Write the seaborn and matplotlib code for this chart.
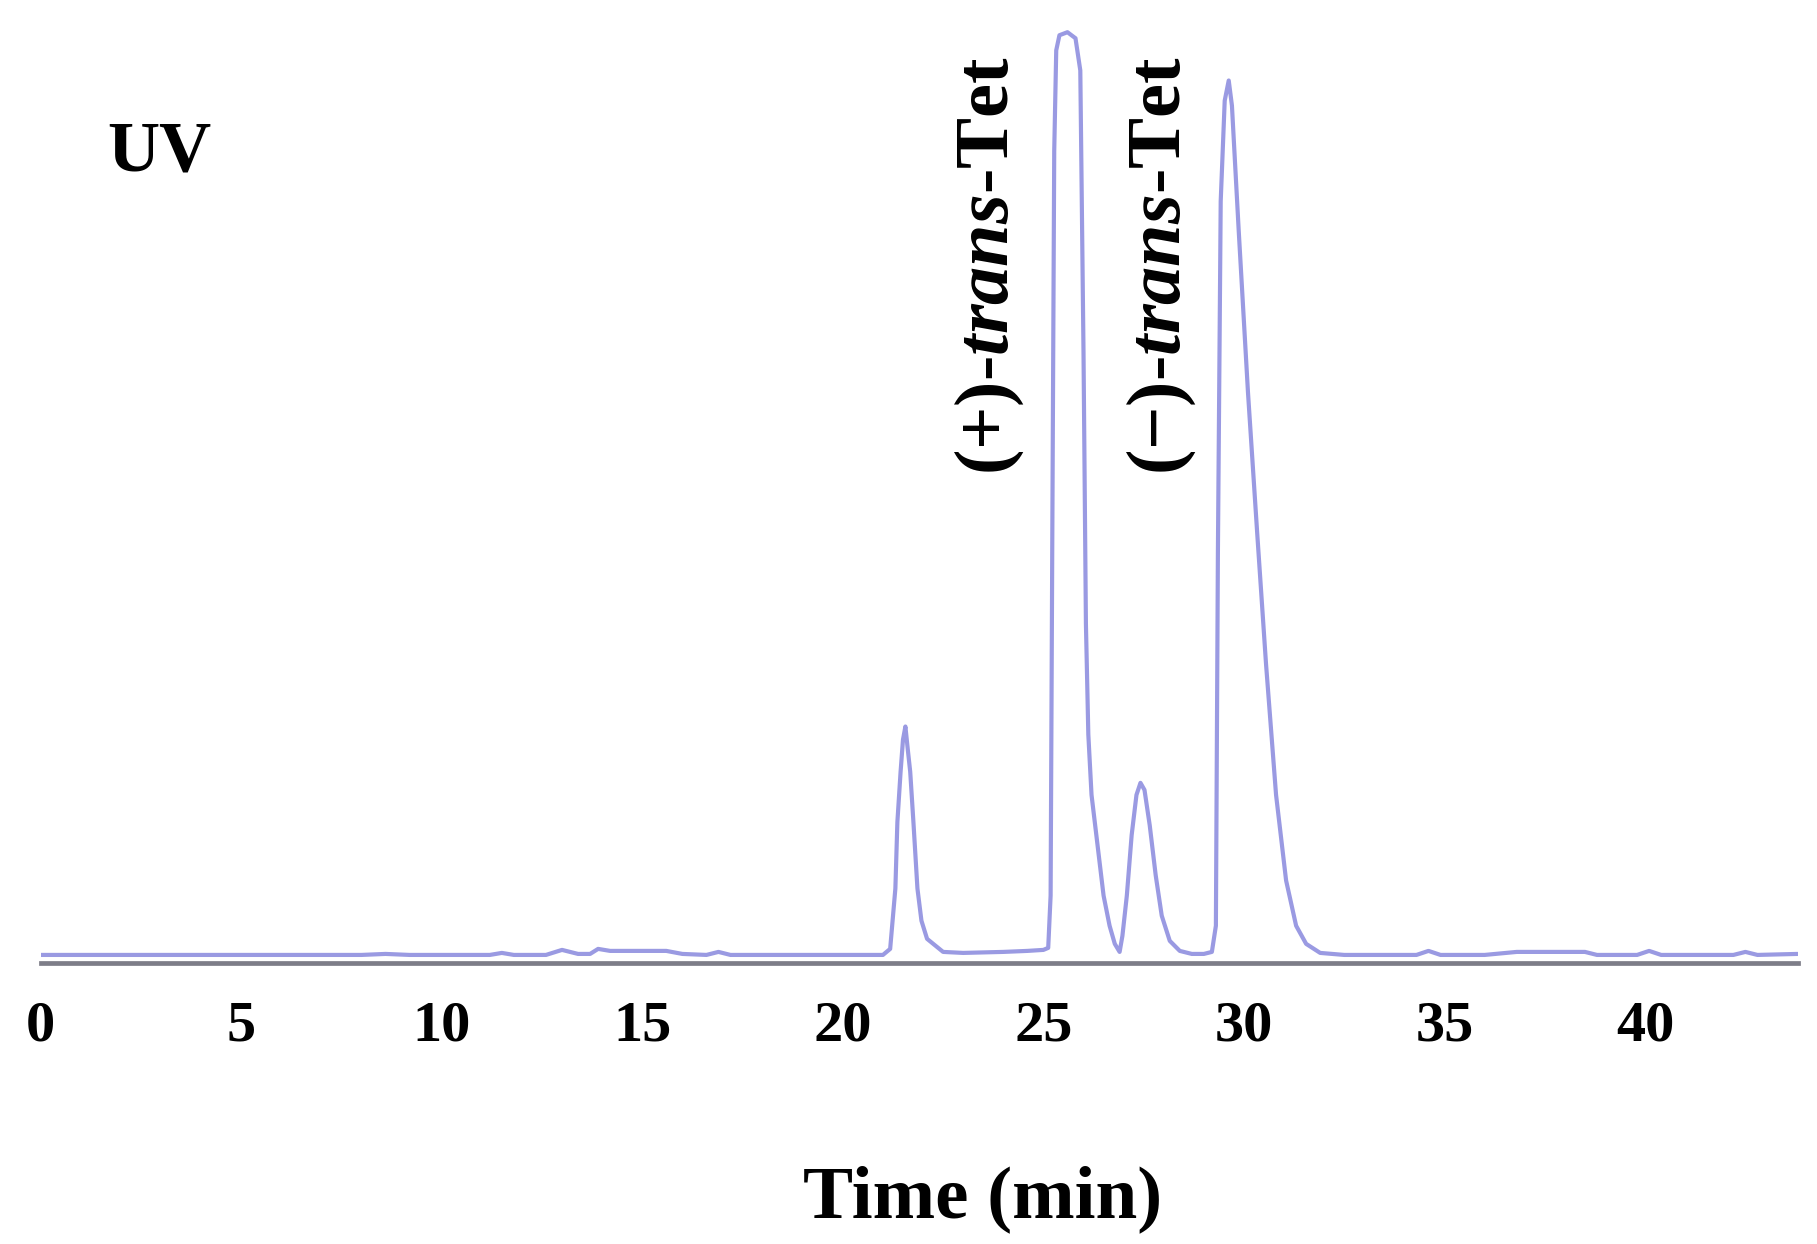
import matplotlib
matplotlib.use('Agg')
import matplotlib.pyplot as plt
import seaborn as sns
import pandas as pd

# Chromatogram trace (time in min, detector signal in arbitrary units)
time = [0.0, 2.0, 4.0, 6.0, 8.0, 8.6, 9.2, 10.5, 11.2, 11.5, 11.8, 12.6, 13.0, 13.4,
        13.7, 13.9, 14.2, 15.0, 15.6, 16.0, 16.6, 16.9, 17.2, 18.5, 20.0, 21.0,
        21.18, 21.31, 21.36, 21.44, 21.5, 21.56, 21.62, 21.68, 21.76, 21.86, 21.96,
        22.1, 22.5, 23.0, 24.0, 24.6, 25.0, 25.12,
        25.18, 25.22, 25.27, 25.32, 25.4, 25.6, 25.8, 25.92, 26.0, 26.06, 26.12,
        26.2, 26.35, 26.5, 26.65, 26.78, 26.9,
        26.97, 27.08, 27.2, 27.32, 27.42, 27.52, 27.65, 27.8, 27.95, 28.15, 28.4, 28.7,
        29.0, 29.2, 29.3, 29.35, 29.42, 29.52, 29.62, 29.7, 29.87, 30.1, 30.33,
        30.55, 30.8, 31.05, 31.3, 31.55, 31.9, 32.5, 33.5, 34.3, 34.6,
        34.9, 36.0, 36.8, 37.0, 38.5, 38.8, 39.8, 40.1, 40.4, 42.2, 42.5, 42.8, 43.8]
signal = [1, 1, 1, 1, 1, 2, 1, 1, 1, 3, 1, 1, 6, 2,
          2, 7, 5, 5, 5, 2, 1, 4, 1, 1, 1, 1,
          7, 67, 133, 183, 215, 228, 205, 183, 133, 67, 35,
          17, 4, 3, 4, 5, 6, 8,
          60, 400, 800, 900, 915, 918, 912, 880, 600, 330, 220,
          160, 110, 60, 30, 12, 4,
          20, 60, 120, 160, 172, 165, 130, 80, 40, 15, 5, 2,
          2, 4, 30, 400, 750, 850, 870, 845, 720, 560, 420,
          290, 160, 75, 30, 12, 3, 1, 1, 1, 5,
          1, 1, 4, 4, 4, 1, 1, 5, 1, 1, 4, 1, 2]

peak_labels = ['(+)-$\\mathit{trans}$-Tet', '(\u2212)-$\\mathit{trans}$-Tet']
peak_label_x = [23.66, 27.93]

df = pd.DataFrame({'time': time, 'signal': signal})

sns.set_style('white')
plt.rcParams['font.family'] = ['Liberation Serif', 'DejaVu Serif']
plt.rcParams['font.weight'] = 'bold'
plt.rcParams['text.color'] = 'black'
plt.rcParams['xtick.color'] = 'black'
plt.rcParams['mathtext.fontset'] = 'custom'
plt.rcParams['mathtext.it'] = 'Liberation Serif:italic:bold'
plt.rcParams['mathtext.rm'] = 'Liberation Serif:bold'
plt.rcParams['mathtext.bf'] = 'Liberation Serif:bold'

fig = plt.figure(figsize=(18.17, 12.44), dpi=100)
ax = fig.add_axes([0.0223, 0.2259, 0.967, 0.7741])

sns.lineplot(data=df, x='time', y='signal', estimator=None, color='#9a9ae2',
             linewidth=3, ax=ax)

ax.set_xlim(0, 43.8)
ax.set_ylim(-7, 950)
ax.set_xticks(range(0, 45, 5))
ax.set_yticks([])
ax.set_xlabel('')
ax.set_ylabel('')

for side in ['left', 'right', 'top']:
    ax.spines[side].set_visible(False)
ax.spines['bottom'].set_color('#7d7d88')
ax.spines['bottom'].set_linewidth(3.4)
ax.tick_params(axis='x', direction='out', length=15, width=2.5, color='#555555',
               labelcolor='black', labelsize=42, pad=12)
for lab in ax.get_xticklabels():
    lab.set_fontweight('bold')

for lab, xpos in zip(peak_labels, peak_label_x):
    ax.text(xpos, 478, lab, rotation=90, ha='center', va='bottom',
            fontsize=55, fontweight='bold', color='black')

fig.text(0.0589, 0.8633, 'UV', fontsize=52, fontweight='bold', ha='left', va='baseline')
fig.text(0.5405, 0.0217, 'Time (min)', fontsize=54, fontweight='bold', ha='center', va='baseline')

fig.savefig('out.png', dpi=100)
